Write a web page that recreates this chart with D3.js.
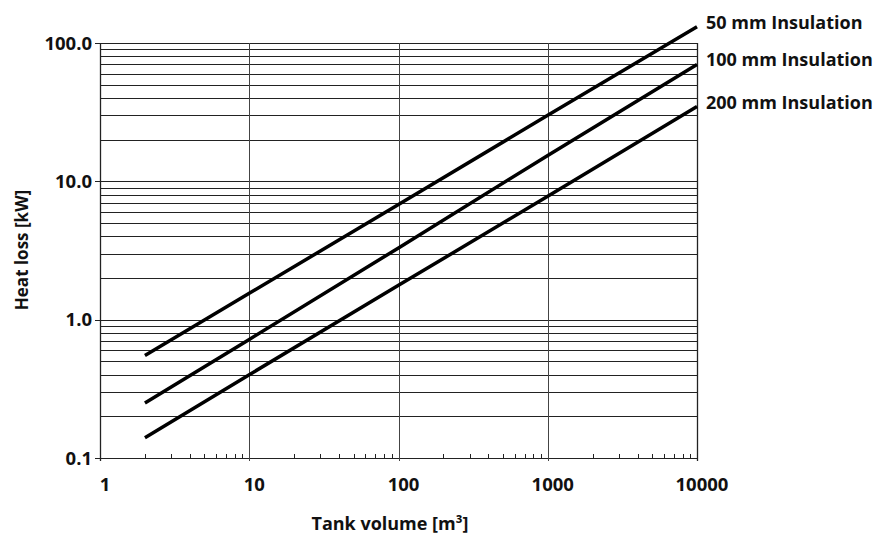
<!DOCTYPE html>
<html>
<head>
<meta charset="utf-8">
<script src="https://cdn.jsdelivr.net/npm/d3@7"></script>
<style>
  body { margin: 0; background: #fff; }
  text { font-family: "Open Sans", sans-serif; font-weight: bold; fill: #111; }
</style>
</head>
<body>
<svg id="chart" width="883" height="537"></svg>
<script>
// tank volume [m3] where the curves were read
const volumes = [2, 10, 100, 1000, 10000];
// heat loss [kW] per insulation thickness
const loss50 = [0.55, 1.55, 6.8, 30, 131];
const loss100 = [0.25, 0.72, 3.3, 15.4, 70];
const loss200 = [0.14, 0.40, 1.77, 7.8, 34.7];
const seriesNames = ['50 mm Insulation', '100 mm Insulation', '200 mm Insulation'];
const xTickLabels = ['1', '10', '100', '1000', '10000'];
const yTickLabels = ['0.1', '1.0', '10.0', '100.0'];

const series = [loss50, loss100, loss200].map((vals, i) => ({
  name: seriesNames[i],
  points: vals.map((v, j) => ({ x: volumes[j], y: v }))
}));

const svg = d3.select('#chart');

const x = d3.scaleLog().domain([1, 10000]).range([100, 697]);
const y = d3.scaleLog().domain([0.1, 100]).range([458, 43]);

const decadesX = xTickLabels.map(Number);
const decadesY = yTickLabels.map(Number);

// horizontal grid, every log tick
svg.append('g')
  .selectAll('line')
  .data(y.ticks())
  .enter().append('line')
  .attr('x1', x(1)).attr('x2', x(10000))
  .attr('y1', d => Math.round(y(d)) + 0.5)
  .attr('y2', d => Math.round(y(d)) + 0.5)
  .attr('stroke', '#222')
  .attr('stroke-width', 1);

// vertical grid, decades only
svg.append('g')
  .selectAll('line')
  .data(decadesX)
  .enter().append('line')
  .attr('x1', d => Math.round(x(d)) + 0.5)
  .attr('x2', d => Math.round(x(d)) + 0.5)
  .attr('y1', y(100))
  .attr('y2', y(0.1) + 3)
  .attr('stroke', d => (d === 1 || d === 10000) ? '#222' : '#444')
  .attr('stroke-width', d => (d === 1 || d === 10000) ? 1.3 : 1);

// minor x ticks, pointing up into the plot
svg.append('g')
  .selectAll('line')
  .data(x.ticks().filter(d => decadesX.indexOf(d) < 0))
  .enter().append('line')
  .attr('x1', d => Math.round(x(d)) + 0.5)
  .attr('x2', d => Math.round(x(d)) + 0.5)
  .attr('y1', y(0.1) - 4)
  .attr('y2', y(0.1))
  .attr('stroke', '#222');

// major y ticks, sticking out to the left
svg.append('g')
  .selectAll('line')
  .data(decadesY)
  .enter().append('line')
  .attr('x1', x(1) - 5).attr('x2', x(1))
  .attr('y1', d => Math.round(y(d)) + 0.5)
  .attr('y2', d => Math.round(y(d)) + 0.5)
  .attr('stroke', '#222');

// tick labels
svg.append('g')
  .selectAll('text')
  .data(yTickLabels)
  .enter().append('text')
  .attr('x', 92)
  .attr('y', d => y(+d) + 6.5)
  .attr('text-anchor', 'end')
  .attr('font-size', 18.5)
  .text(d => d);

svg.append('g')
  .selectAll('text')
  .data(xTickLabels)
  .enter().append('text')
  .attr('x', d => x(+d) + 5)
  .attr('y', 491)
  .attr('text-anchor', 'middle')
  .attr('font-size', 18.5)
  .text(d => d);

// axis titles
svg.append('text')
  .attr('x', 390).attr('y', 530)
  .attr('text-anchor', 'middle')
  .attr('font-size', 18)
  .text('Tank volume [m³]');

svg.append('text')
  .attr('transform', 'translate(28,250) rotate(-90)')
  .attr('text-anchor', 'middle')
  .attr('font-size', 17)
  .text('Heat loss [kW]');

// curves
const line = d3.line().x(d => x(d.x)).y(d => y(d.y));

svg.append('g')
  .selectAll('path')
  .data(series)
  .enter().append('path')
  .attr('d', d => line(d.points))
  .attr('fill', 'none')
  .attr('stroke', '#000')
  .attr('stroke-width', 3.5);

// labels at line ends
svg.append('g')
  .selectAll('text')
  .data(series)
  .enter().append('text')
  .attr('x', d => x(d.points[d.points.length - 1].x) + 9)
  .attr('y', d => y(d.points[d.points.length - 1].y) + 2)
  .attr('font-size', 18)
  .text(d => d.name);
</script>
</body>
</html>
